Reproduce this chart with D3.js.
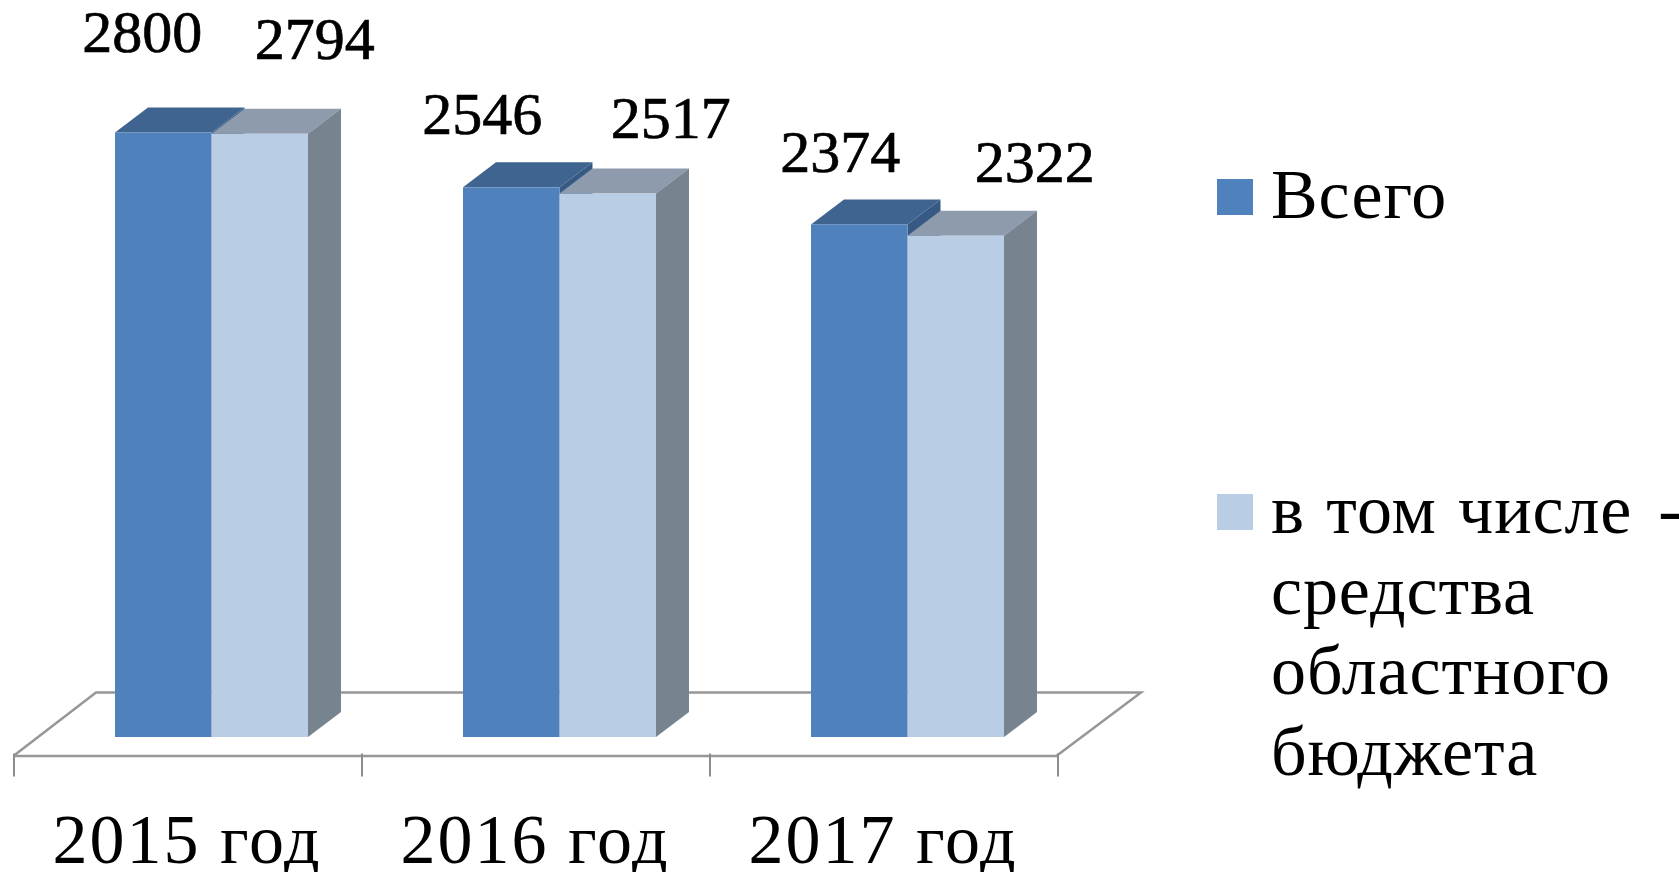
<!DOCTYPE html>
<html>
<head>
<meta charset="utf-8">
<style>
    html, body { margin: 0; padding: 0; background: white; overflow: hidden; }
    svg { display: block; }
    text { font-family: "Liberation Serif", serif; fill: black; }
</style>
</head>
<body>
<div class="chart"></div>
<script src="https://cdnjs.cloudflare.com/ajax/libs/d3/7.8.5/d3.min.js"></script>
<script>
const categories = ['2015 год', '2016 год', '2017 год'];
const seriesNames = ['Всего', 'в том числе - средства областного бюджета'];
const total = [2800, 2546, 2374];
const regional = [2794, 2517, 2322];

const width = 1679;
const height = 872;
const baseY = 737;
const topY = 132.5;
const axisY = 755.5;

const svg = d3.select('.chart')
    .append('svg')
        .attr('width', width)
        .attr('height', height)

const x0 = d3.scaleBand()
    .domain(categories)
    .range([14, 1058])

const x1 = d3.scaleBand()
    .domain(d3.range(seriesNames.length))
    .range([101, 294])

const y = d3.scaleLinear()
    .domain([0, 2800])
    .range([baseY, topY])

//faces of the 3d bars, per series
const colors = [
    { front: '#4f81bd', top: '#3f6490', side: '#375a85' },
    { front: '#b9cde5', top: '#8e9bad', side: '#77838f' }
]
const depthX = 33;
const depthY = 25;

//floor of the 3d chart
svg.append('path')
    .attr('d', `M14,${axisY}L96,692.5L1141,692.5L1057,${axisY}`)
    .style('fill', 'none')
    .style('stroke', '#979797')
    .style('stroke-width', 2.5)

const xAxis = svg.append('g')
    .attr('transform', `translate(0, ${axisY})`)
    .call(d3.axisBottom(x0).tickSize(0).tickPadding(107))

xAxis.select('path')
    .style('stroke', '#979797')
    .style('stroke-width', 2.5)

xAxis.selectAll('text')
    .style('font-family', '"Liberation Serif", serif')
    .style('font-size', '70px')
    .style('letter-spacing', '2px')
    .attr('dx', -1)
    .attr('dy', 0)

//ticks sit between the groups, not at the band centers
svg.append('g')
    .selectAll('line')
    .data(d3.range(categories.length + 1))
    .enter()
    .append('line')
        .attr('x1', (d) => x0.range()[0] + d * x0.step())
        .attr('x2', (d) => x0.range()[0] + d * x0.step())
        .attr('y1', axisY - 2)
        .attr('y2', axisY + 21)
        .style('stroke', '#8c8c8c')
        .style('stroke-width', 2)

const drawBars = (values, s) => {
    const left = (i) => x0(categories[i]) + x1(s);
    const right = (i) => left(i) + x1.bandwidth();

    const bars = svg.append('g')
        .selectAll('g')
        .data(values)
        .enter()
        .append('g')

    bars.append('polygon')
        .attr('points', (d, i) => [
            [left(i), y(d)],
            [left(i) + depthX, y(d) - depthY],
            [right(i) + depthX, y(d) - depthY],
            [right(i), y(d)]
        ].join(' '))
        .style('fill', colors[s].top)

    bars.append('polygon')
        .attr('points', (d, i) => [
            [right(i), y(d)],
            [right(i) + depthX, y(d) - depthY],
            [right(i) + depthX, y(0) - depthY],
            [right(i), y(0)]
        ].join(' '))
        .style('fill', colors[s].side)

    bars.append('rect')
        .attr('x', (d, i) => left(i))
        .attr('y', (d) => y(d))
        .attr('width', x1.bandwidth())
        .attr('height', (d) => y(0) - y(d))
        .style('fill', colors[s].front)
}

drawBars(total, 0)
drawBars(regional, 1)

//data labels were moved by hand in the original, so each has its own nudge
const labelLift = [[80.5, 53, 52], [75, 56, 54]];
const labelShift = [[-21, -29, -19], [55, 63, 79]];

[total, regional].forEach((values, s) => {
    svg.append('g')
        .selectAll('text')
        .data(values)
        .enter()
        .append('text')
            .attr('x', (d, i) => x0(categories[i]) + x1(s) + x1.bandwidth() / 2 + labelShift[s][i])
            .attr('y', (d, i) => y(d) - labelLift[s][i])
            .attr('text-anchor', 'middle')
            .style('font-size', '60px')
            .style('stroke', 'black')
            .style('stroke-width', 0.7)
            .text((d) => d)
})

//legend
const legendRows = [
    [seriesNames[0]],
    ['в том числе', 'средства', 'областного', 'бюджета']
];
const legendY = [218, 533];

const legend = svg.append('g')
    .selectAll('g')
    .data(legendRows)
    .enter()
    .append('g')
        .attr('transform', (d, i) => `translate(1217, ${legendY[i]})`)

legend.append('rect')
    .attr('x', 0)
    .attr('y', -39)
    .attr('width', 36)
    .attr('height', 36)
    .style('fill', (d, i) => colors[i].front)

legend.selectAll('text')
    .data((d) => d)
    .enter()
    .append('text')
        .attr('x', 54)
        .attr('y', (d, i) => i * 80.5)
        .style('font-size', '70px')
        .style('letter-spacing', '0.9px')
        .style('word-spacing', '3px')
        .text((d) => d)

//the dash hangs off the right edge of the picture
legend.selectAll('text')
    .filter((d) => d === 'в том числе')
    .append('tspan')
        .attr('dx', 26)
        .text('-')
</script>
</body>
</html>
